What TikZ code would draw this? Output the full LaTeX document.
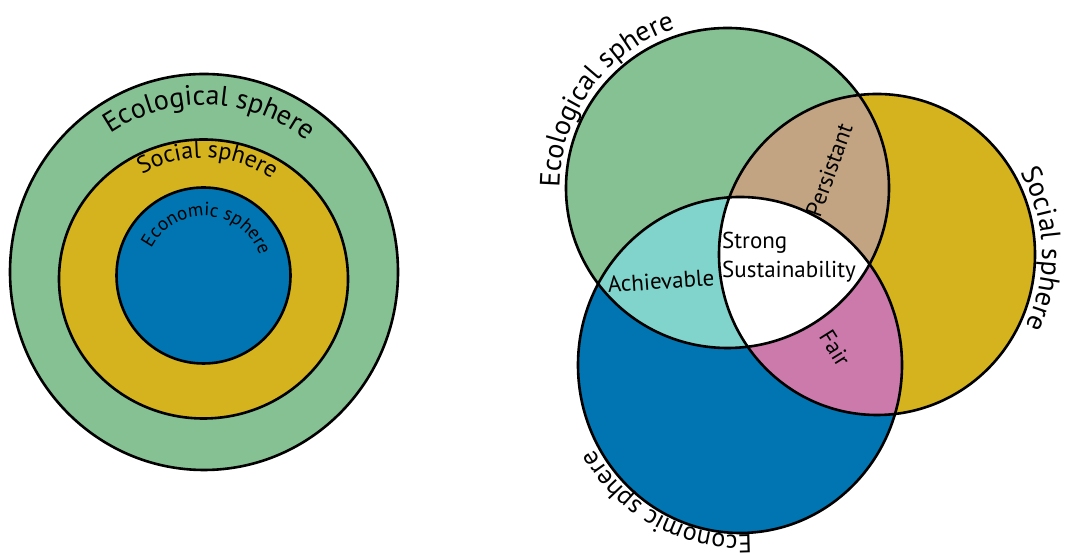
\documentclass[tikz,border=0pt]{standalone}
\usepackage{fontspec}
\setmainfont{PT Sans}
\usetikzlibrary{decorations.text}
\definecolor{ecogreen}{RGB}{134,193,148}
\definecolor{socyellow}{RGB}{212,179,30}
\definecolor{econblue}{RGB}{0,117,178}
\definecolor{achteal}{RGB}{128,212,203}
\definecolor{perbrown}{RGB}{194,164,131}
\definecolor{fairpink}{RGB}{204,122,172}
\newcommand\ringfont{\fontsize{28}{32}\selectfont}
\newcommand\lowringfont{\fontsize{26}{30}\selectfont}
\newcommand\outerfont{\fontsize{28}{32}\selectfont}
\newcommand\midfont{\fontsize{24}{28}\selectfont}
\newcommand\smallfont{\fontsize{19}{22}\selectfont}
\newcommand\areafont{\fontsize{23}{29}\selectfont}
\begin{document}
\begin{tikzpicture}[x=1pt,y=1pt,
  rim/.style={draw=black, line width=2.6pt},
  arctext/.style={decorate, decoration={text along path, text align=center, text={#1}}},
  arealabel/.style={inner sep=0pt, font=\areafont, text=black}]
\useasboundingbox (0,0) rectangle (1071,553);
\fill[white] (0,0) rectangle (1071,553);

% ---------- nested spheres ----------
\fill[ecogreen, rim] (204,281) ellipse [x radius=194, y radius=198];
\fill[socyellow, rim] (203.5,274) ellipse [x radius=144.5, y radius=139.5];
\fill[econblue, rim] (203.5,277.5) ellipse [x radius=87, y radius=88];

\path[arctext={|\outerfont|Ecological sphere}]
  (204,281) ++(155:167) arc [start angle=155, end angle=21, radius=167];
\path[arctext={|\midfont|Social sphere}]
  (203.5,274) ++(155:121) arc [start angle=155, end angle=21, radius=121];
\path[arctext={|\smallfont|Economic sphere}]
  (204,278) ++(176:59) arc [start angle=176, end angle=-4, radius=59];

% ---------- overlapping spheres ----------
\fill[ecogreen] (727.5,365) ellipse [x radius=161.5, y radius=160];
\fill[socyellow] (877,298.5) ellipse [x radius=158, y radius=160.5];
\fill[econblue] (740,188) ellipse [x radius=162, y radius=168];

% social and economic overlap
\begin{scope}
  \clip (877,298.5) ellipse [x radius=158, y radius=160.5];
  \fill[fairpink] (740,188) ellipse [x radius=162, y radius=168];
\end{scope}
% ecological overlaps
\begin{scope}
  \clip (727.5,365) ellipse [x radius=161.5, y radius=160];
  \fill[achteal] (740,188) ellipse [x radius=162, y radius=168];
  \fill[perbrown] (877,298.5) ellipse [x radius=158, y radius=160.5];
  \clip (877,298.5) ellipse [x radius=158, y radius=160.5];
  \fill[white] (740,188) ellipse [x radius=162, y radius=168];
\end{scope}

\draw[rim] (727.5,365) ellipse [x radius=161.5, y radius=160];
\draw[rim] (877,298.5) ellipse [x radius=158, y radius=160.5];
\draw[rim] (740,188) ellipse [x radius=162, y radius=168];

\path[arctext={|\ringfont|Ecological sphere}]
  (727.5,365) ++(204:168) arc [start angle=204, end angle=84, radius=168];
\path[arctext={|\ringfont|Social sphere}]
  (877,298.5) ++(62:165) arc [start angle=62, end angle=-58, radius=165];
\path[arctext={|\lowringfont|Economic sphere}]
  (740,188) ++(302:168 and 170) arc [start angle=302, end angle=182, x radius=168, y radius=170];

\node[arealabel, rotate=70] (persistant) at (829,383) {Persistant};
\node[arealabel, align=left, anchor=west] (strong) at (722,296) {Strong\\Sustainability};
\node[arealabel, rotate=4] (achievable) at (661,272) {Achievable};
\node[arealabel, rotate=-58] (fair) at (835,205) {Fair};
\end{tikzpicture}
\end{document}
